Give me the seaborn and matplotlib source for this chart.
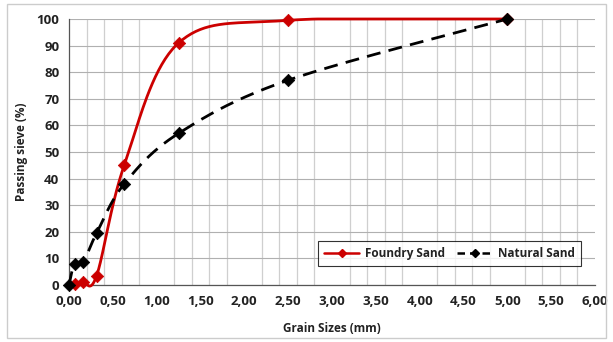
import numpy as np
import matplotlib
matplotlib.use("Agg")
import matplotlib.pyplot as plt
import seaborn as sns
from matplotlib.ticker import MultipleLocator, FuncFormatter

foundry_x = [0.063, 0.16, 0.315, 0.63, 1.25, 2.5, 5.0]
foundry_y = [0.5, 1.0, 3.5, 45.0, 91.0, 99.5, 100.0]
natural_x = [0.0, 0.063, 0.16, 0.315, 0.63, 1.25, 2.5, 5.0]
natural_y = [0.0, 8.0, 8.5, 19.5, 38.0, 57.0, 77.0, 100.0]
x_ticks = [0, 0.5, 1.0, 1.5, 2.0, 2.5, 3.0, 3.5, 4.0, 4.5, 5.0, 5.5, 6.0]
y_ticks = [0, 10, 20, 30, 40, 50, 60, 70, 80, 90, 100]


def smooth(xs, ys, n=40):
    # Excel-like smoothed line (Catmull-Rom Bezier) through the data points
    xs = np.asarray(xs, float); ys = np.asarray(ys, float)
    px = np.concatenate([[xs[0]], xs, [xs[-1]]])
    py = np.concatenate([[ys[0]], ys, [ys[-1]]])
    ox, oy = [], []
    t = np.linspace(0, 1, n)
    for i in range(1, len(px) - 2):
        p0, p1, p2, p3 = [np.array([px[j], py[j]]) for j in (i - 1, i, i + 1, i + 2)]
        c1 = p1 + (p2 - p0) / 6.0
        c2 = p2 - (p3 - p1) / 6.0
        b = ((1 - t) ** 3)[:, None] * p1 + (3 * (1 - t) ** 2 * t)[:, None] * c1 \
            + (3 * (1 - t) * t ** 2)[:, None] * c2 + (t ** 3)[:, None] * p2
        ox.extend(b[:, 0]); oy.extend(b[:, 1])
    return np.array(ox), np.array(oy)


sns.set_theme(style="white")
plt.rcParams['font.family'] = ['Open Sans', 'DejaVu Sans']

fig = plt.figure(figsize=(6.13, 3.42), dpi=100)
ax = fig.add_axes([69 / 613, 1 - 285 / 342, (595 - 69) / 613, (285 - 19) / 342])

red = "#cc0000"
sx, sy = smooth(foundry_x, foundry_y)
ax.plot(sx, np.minimum(sy, 100), color=red, lw=2.0, zorder=3, clip_on=False)
sns.scatterplot(x=foundry_x, y=foundry_y, ax=ax, marker="D", color=red, s=40,
                edgecolor=red, zorder=4, legend=False, clip_on=False)
nx, ny = smooth(natural_x, natural_y)
ax.plot(nx, ny, color="black", lw=2.0, ls=(0, (5, 3)), zorder=3, clip_on=False)
sns.scatterplot(x=natural_x, y=natural_y, ax=ax, marker="D", color="black", s=40,
                edgecolor="black", zorder=4, legend=False, clip_on=False)

# legend proxies
ax.plot([], [], color=red, lw=1.8, marker="D", ms=4, label="Foundry Sand")
ax.plot([], [], color="black", lw=1.8, ls=(0, (3, 2)), marker="D", ms=4, label="Natural Sand")
leg = ax.legend(loc="lower right", bbox_to_anchor=(0.985, 0.05), ncol=2, frameon=True,
                fancybox=False, edgecolor="black", handlelength=3.0, handletextpad=0.5,
                columnspacing=1.0, borderpad=0.5, prop={'weight': 'bold', 'size': 8.5})
leg.get_frame().set_linewidth(0.8)
for t in leg.get_texts():
    t.set_color("#222222")

ax.set_xlim(0, 6)
ax.set_ylim(0, 100)
ax.set_xticks(x_ticks)
ax.set_yticks(y_ticks)
ax.xaxis.set_major_formatter(FuncFormatter(lambda v, p: f"{v:.2f}".replace(".", ",")))
ax.xaxis.set_minor_locator(MultipleLocator(0.2))
ax.yaxis.set_minor_locator(MultipleLocator(2))
ax.grid(which="major", axis="y", color="#b0b0b0", lw=0.8)
ax.grid(which="minor", axis="x", color="#cfcfcf", lw=0.9)
ax.set_axisbelow(True)
for s in ["top", "right"]:
    ax.spines[s].set_visible(False)
for s in ["left", "bottom"]:
    ax.spines[s].set_color("#555555")
    ax.spines[s].set_linewidth(0.9)
ax.tick_params(which="major", direction="inout", length=6, width=0.8, color="#555555",
               labelsize=9.5, labelcolor="#222222", pad=4)
ax.tick_params(which="minor", direction="inout", length=4, width=0.6, color="#555555")
ax.tick_params(axis="x", which="minor", length=0)
for lab in ax.get_xticklabels() + ax.get_yticklabels():
    lab.set_fontweight("bold")
ax.set_xlabel("Grain Sizes (mm)", fontsize=8.5, fontweight="bold", color="#222222", labelpad=10)
ax.set_ylabel("Passing sieve (%)", fontsize=8.5, fontweight="bold", color="#222222", labelpad=6)

fig.patches.append(plt.Rectangle((0.012, 0.012), 0.976, 0.976, transform=fig.transFigure,
                                 fill=False, edgecolor="#cccccc", lw=1))
fig.savefig("out.png", dpi=100)
